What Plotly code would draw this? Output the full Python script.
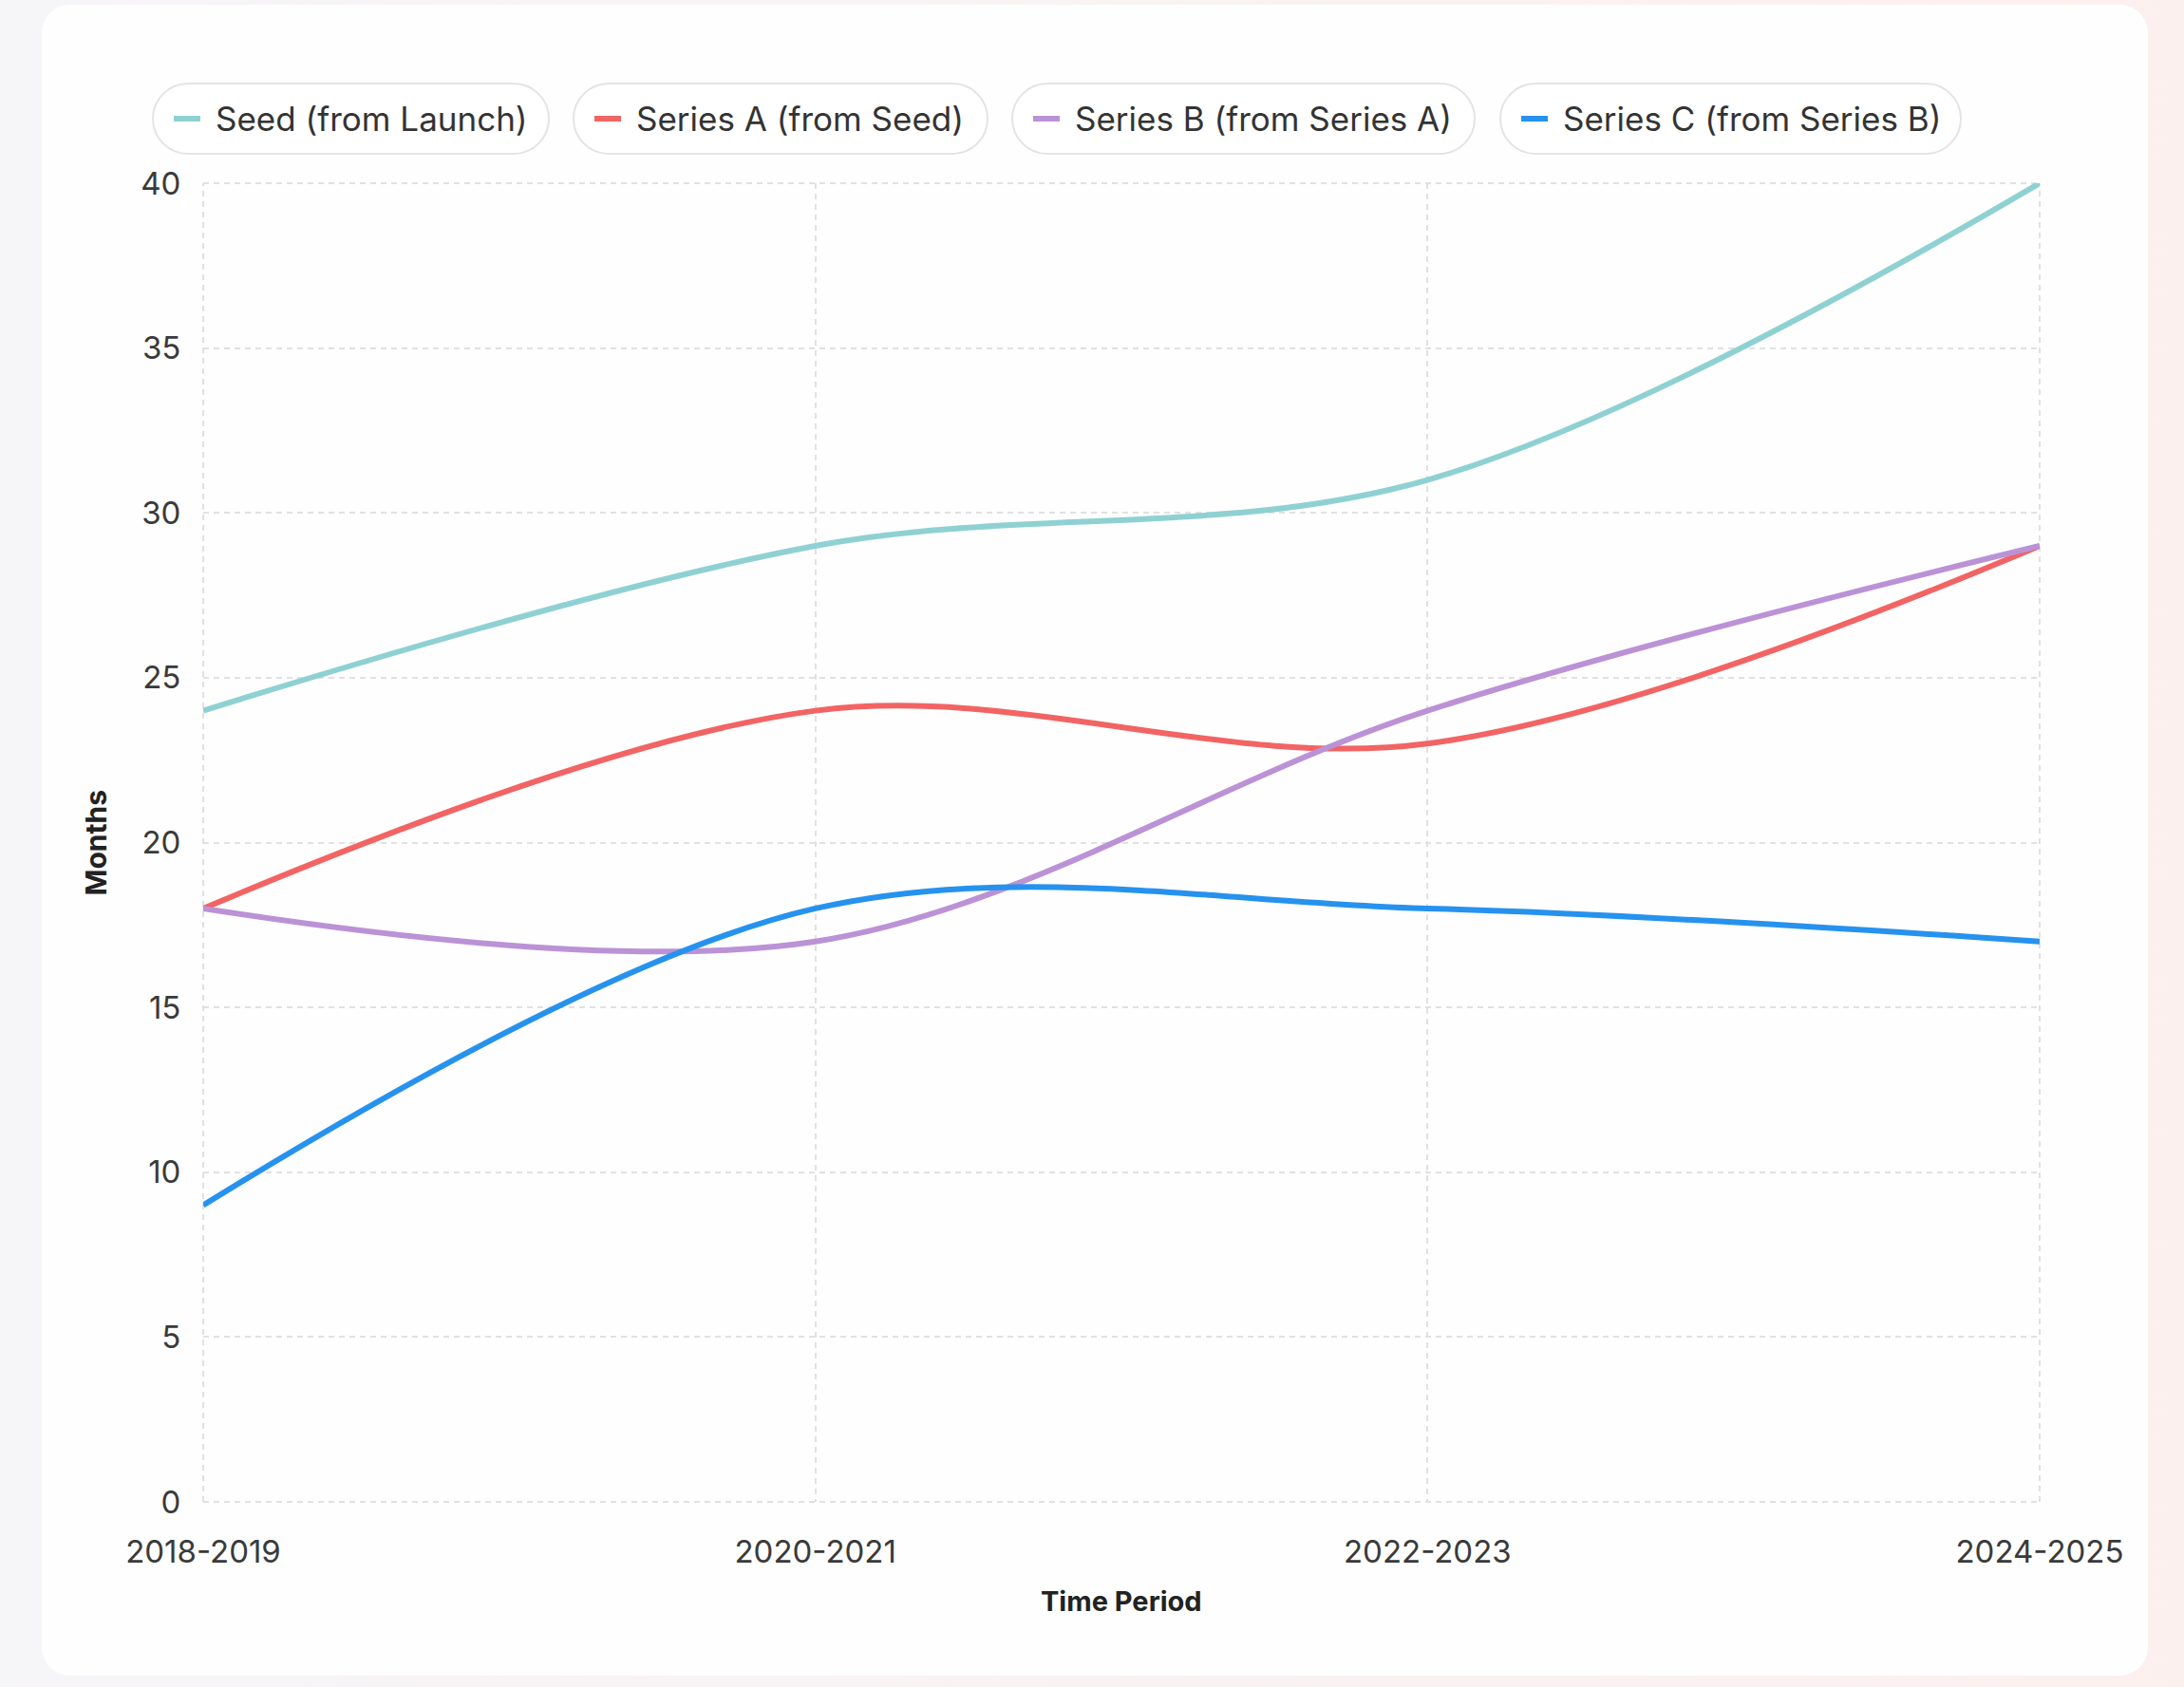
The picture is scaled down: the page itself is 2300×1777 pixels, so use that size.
import plotly.graph_objects as go

# ---- data ----
periods = ["2018-2019", "2020-2021", "2022-2023", "2024-2025"]
seed_from_launch = [24, 29, 31, 40]
series_a_from_seed = [18, 24, 23, 29]
series_b_from_a = [18, 17, 24, 29]
series_c_from_b = [9, 18, 18, 17]

series_names = [
    "Seed (from Launch)",
    "Series A (from Seed)",
    "Series B (from Series A)",
    "Series C (from Series B)",
]
series_values = [seed_from_launch, series_a_from_seed, series_b_from_a, series_c_from_b]
series_colors = ["#8fd1d2", "#f26464", "#bb92d6", "#2692ee"]

y_ticks = [0, 5, 10, 15, 20, 25, 30, 35, 40]

# ---- page geometry (pixels) ----
W, H = 2300, 1777
PL, PR, PT, PB = 214, 2148, 193, 1582
FONT = "Inter, Roboto, Arial, sans-serif"
GRID_COLOR = "#e1e1e1"
GRID_DASH = "6px,5px"


def px_x(x):
    return (x - PL) / (PR - PL)


def px_y(y):
    return (PB - y) / (PB - PT)


def rounded_rect(x0, y0, x1, y1, r):
    """Closed path of a rounded rectangle given in pixels, returned in paper units."""
    k = 0.5523 * r
    pts = [
        ("M", [(x0 + r, y0)]),
        ("L", [(x1 - r, y0)]),
        ("C", [(x1 - r + k, y0), (x1, y0 + r - k), (x1, y0 + r)]),
        ("L", [(x1, y1 - r)]),
        ("C", [(x1, y1 - r + k), (x1 - r + k, y1), (x1 - r, y1)]),
        ("L", [(x0 + r, y1)]),
        ("C", [(x0 + r - k, y1), (x0, y1 - r + k), (x0, y1 - r)]),
        ("L", [(x0, y0 + r)]),
        ("C", [(x0, y0 + r - k), (x0 + r - k, y0), (x0 + r, y0)]),
    ]
    parts = []
    for cmd, coords in pts:
        parts.append(cmd + " " + " ".join(f"{px_x(a):.5f},{px_y(b):.5f}" for a, b in coords))
    return " ".join(parts) + " Z"


fig = go.Figure()

for name, vals, color in zip(series_names, series_values, series_colors):
    fig.add_trace(
        go.Scatter(
            x=periods,
            y=vals,
            name=name,
            mode="lines",
            line=dict(color=color, width=6, shape="spline", smoothing=1.0),
            showlegend=False,
        )
    )

shapes = []
annotations = []

# card behind the chart
shapes.append(
    dict(
        type="path",
        xref="paper",
        yref="paper",
        path=rounded_rect(44, 5, 2262, 1765, 30),
        fillcolor="#fefefe",
        line=dict(width=0),
        layer="below",
    )
)

# dashed grid lines on the plot edges
edge_line = dict(color=GRID_COLOR, width=2, dash=GRID_DASH)
for xv in [0, 1]:
    shapes.append(dict(type="line", xref="paper", yref="paper", x0=xv, x1=xv, y0=0, y1=1,
                       line=edge_line, layer="below"))
for yv in [0, 1]:
    shapes.append(dict(type="line", xref="paper", yref="paper", x0=0, x1=1, y0=yv, y1=yv,
                       line=edge_line, layer="below"))

# pill-shaped legend
pill_left = [161, 604, 1066, 1580]
pill_right = [578, 1040, 1553, 2065]
pill_top, pill_bottom = 88, 162
pill_mid = (pill_top + pill_bottom) / 2
for name, color, x0, x1 in zip(series_names, series_colors, pill_left, pill_right):
    shapes.append(
        dict(
            type="path",
            xref="paper",
            yref="paper",
            path=rounded_rect(x0, pill_top, x1, pill_bottom, (pill_bottom - pill_top) / 2),
            fillcolor="#ffffff",
            line=dict(color="#e4e4e4", width=2),
        )
    )
    shapes.append(
        dict(
            type="line",
            xref="paper",
            yref="paper",
            x0=px_x(x0 + 22),
            x1=px_x(x0 + 50),
            y0=px_y(pill_mid),
            y1=px_y(pill_mid),
            line=dict(color=color, width=6),
        )
    )
    annotations.append(
        dict(
            xref="paper",
            yref="paper",
            x=px_x(x0 + 64),
            y=px_y(pill_mid),
            xanchor="left",
            yanchor="middle",
            text=name,
            showarrow=False,
            font=dict(family=FONT, size=35, color="#333333"),
        )
    )

# axis titles
annotations.append(
    dict(
        xref="paper",
        yref="paper",
        x=px_x(100),
        y=0.5,
        text="<b>Months</b>",
        textangle=-90,
        showarrow=False,
        xanchor="center",
        yanchor="middle",
        font=dict(family=FONT, size=30, color="#222222"),
    )
)
annotations.append(
    dict(
        xref="paper",
        yref="paper",
        x=0.5,
        y=px_y(1687),
        text="<b>Time Period</b>",
        showarrow=False,
        xanchor="center",
        yanchor="middle",
        font=dict(family=FONT, size=29, color="#222222"),
    )
)

grid = dict(gridcolor=GRID_COLOR, griddash=GRID_DASH, gridwidth=2)

fig.update_layout(
    width=W,
    height=H,
    margin=dict(l=PL, r=W - PR, t=PT, b=H - PB, pad=0),
    paper_bgcolor="#f8f6f8",
    plot_bgcolor="rgba(0,0,0,0)",
    font=dict(family=FONT, size=33, color="#3a3a3a"),
    shapes=shapes,
    annotations=annotations,
    showlegend=False,
    images=[
        dict(
            source=(
                "data:image/svg+xml;utf8,"
                "<svg xmlns='http://www.w3.org/2000/svg' width='100' height='100' preserveAspectRatio='none'>"
                "<defs><linearGradient id='g' x1='0' y1='0' x2='1' y2='0'>"
                "<stop offset='0' stop-color='%23f6f5f8'/><stop offset='1' stop-color='%23fcf0ee'/>"
                "</linearGradient></defs><rect width='100' height='100' fill='url(%23g)'/></svg>"
            ),
            xref="paper",
            yref="paper",
            x=px_x(0),
            y=px_y(0),
            sizex=W / (PR - PL),
            sizey=H / (PB - PT),
            xanchor="left",
            yanchor="top",
            sizing="stretch",
            layer="below",
        )
    ],
)

fig.update_xaxes(
    type="category",
    range=[0, len(periods) - 1],
    showgrid=True,
    **grid,
    zeroline=False,
    showline=False,
    ticks="outside",
    ticklen=23,
    tickcolor="rgba(0,0,0,0)",
    tickfont=dict(family=FONT, size=33, color="#3a3a3a"),
)
fig.update_yaxes(
    range=[0, 40],
    tickvals=y_ticks,
    showgrid=True,
    **grid,
    zeroline=False,
    showline=False,
    ticks="outside",
    ticklen=16,
    tickcolor="rgba(0,0,0,0)",
    tickfont=dict(family=FONT, size=33, color="#3a3a3a"),
)

fig.write_html("out.html")
